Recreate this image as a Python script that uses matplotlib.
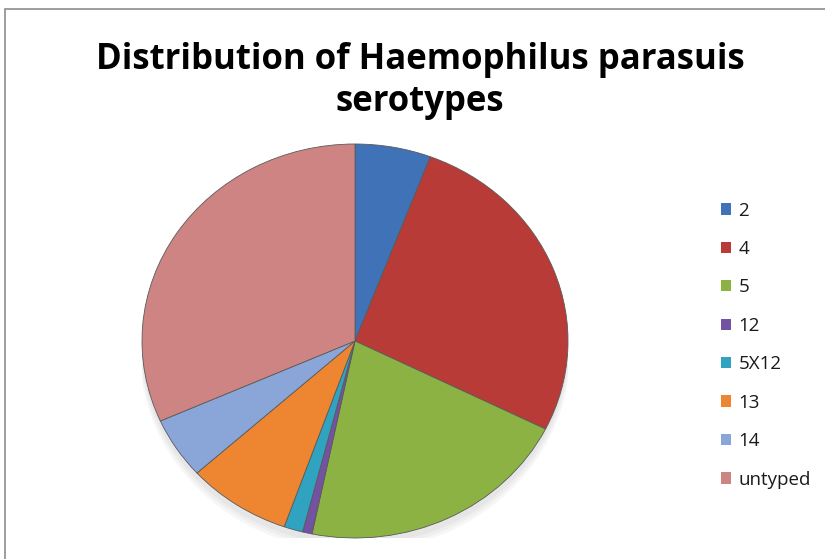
import matplotlib
matplotlib.use("Agg")
import matplotlib.pyplot as plt
from matplotlib.patches import Rectangle, Patch, Ellipse

labels = ["2", "4", "5", "12", "5X12", "13", "14", "untyped"]
counts = [8, 37, 29, 1, 2, 11, 7, 44]
colors = ["#3F72B6", "#B93B38", "#8CB244", "#7352A2", "#2FA3BF",
          "#EE8631", "#8AA6D8", "#CF8484"]
title = "Distribution of Haemophilus parasuis\nserotypes"

W, H = 825, 559
fig = plt.figure(figsize=(W / 100, H / 100), dpi=100)
fig.patch.set_facecolor("white")

# chart frame
fig.patches.append(Rectangle((5 / W, -0.1), 1.2, (H - 9) / H + 0.1,
                             transform=fig.transFigure, fill=False,
                             edgecolor="#8C8C8C", linewidth=1.2))

cx, cy, rx, ry = 355, 341, 213, 197
ax = fig.add_axes([(cx - rx) / W, (H - cy - ry) / H, 2 * rx / W, 2 * ry / H])
# soft shadow
for i, a in enumerate([0.05, 0.05, 0.05]):
    ax.add_patch(Ellipse((0.0, -0.035 - 0.012 * i), 2.0 + 0.01 * i, 2.0 + 0.01 * i,
                         facecolor="#606060", alpha=a, edgecolor="none", zorder=0))
wedges, _ = ax.pie(counts, colors=colors, startangle=90, counterclock=False,
                   wedgeprops=dict(edgecolor="#5A5A5A", linewidth=0.6))
for w in wedges:
    w.set_zorder(2)
ax.set_aspect("auto")
ax.set_xlim(-1, 1)
ax.set_ylim(-1, 1)
ax.axis("off")

fig.text(420 / W, 1 - 81 / H, title, ha="center", va="center",
         fontsize=25, fontweight="bold", family="Open Sans",
         linespacing=1.2, color="black")

handles = [Patch(facecolor=c, edgecolor="none") for c in colors]
leg = fig.legend(handles, labels, loc="upper left",
                 bbox_to_anchor=(713 / W, 1 - 194 / H),
                 frameon=False, prop=dict(family="Open Sans", size=13.5),
                 handlelength=0.55, handleheight=0.55, handletextpad=0.4,
                 labelspacing=1.09, borderaxespad=0)
for t in leg.get_texts():
    t.set_color("#1A1A1A")

fig.savefig("out.png", dpi=100, facecolor="white")
